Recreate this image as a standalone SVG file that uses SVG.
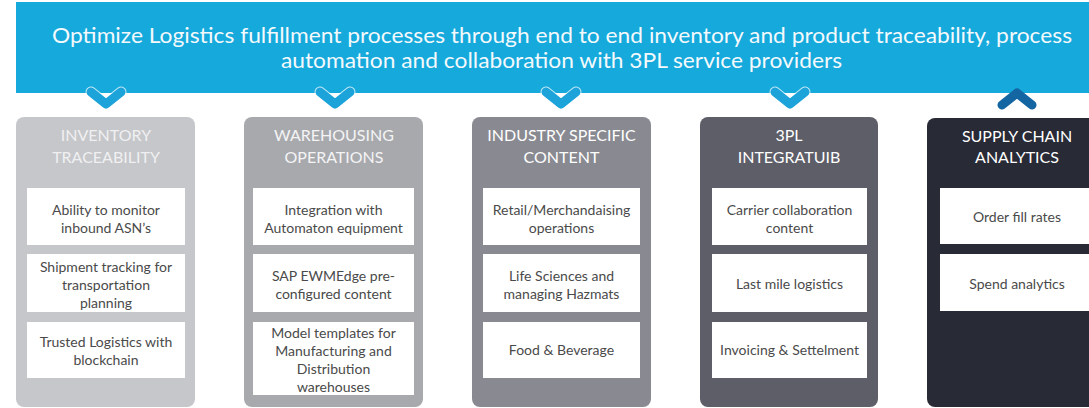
<svg xmlns="http://www.w3.org/2000/svg" width="1089" height="408" viewBox="0 0 1089 408">
<style>
.hdr{font-family:Lato,"Liberation Sans",sans-serif;font-size:21px;fill:#F4F9FC;text-anchor:middle}
.ttl{font-family:Lato,"Liberation Sans",sans-serif;font-size:16px;text-anchor:middle;fill:#FFFFFF}
.txt{font-family:Lato,"Liberation Sans",sans-serif;font-size:14px;text-anchor:middle;fill:#4A4A4A}
.box{fill:#FFFFFF}
.dn{fill:none;stroke:#1BA3DA;stroke-width:9;stroke-linecap:round;stroke-linejoin:round}
.up{fill:none;stroke:#1466A3;stroke-width:9;stroke-linecap:round;stroke-linejoin:round}
.halo{fill:none;stroke:#FFFFFF;stroke-opacity:0.75;stroke-width:11;stroke-linecap:round;stroke-linejoin:round}
</style>
<rect width="1089" height="408" fill="#FFFFFF"/>
<g id="header">
<rect x="16" y="2" width="1073" height="91" fill="#15A9DC"/>
<text class="hdr" x="562" y="43" textLength="1020" lengthAdjust="spacingAndGlyphs">Optimize Logistics fulfillment processes through end to end inventory and product traceability, process</text>
<text class="hdr" x="561.5" y="68" textLength="561" lengthAdjust="spacingAndGlyphs">automation and collaboration with 3PL service providers</text>
</g>
<g id="connectors">
<path class="halo" d="M91 92 L106 104 L121 92"/>
<path class="dn" d="M91 92 L106 104 L121 92"/>
<path class="halo" d="M320 92 L335 104 L350 92"/>
<path class="dn" d="M320 92 L335 104 L350 92"/>
<path class="halo" d="M546 92 L561 104 L576 92"/>
<path class="dn" d="M546 92 L561 104 L576 92"/>
<path class="halo" d="M775 92 L790 104 L805 92"/>
<path class="dn" d="M775 92 L790 104 L805 92"/>
<path class="up" d="M1002 105 L1017 93 L1032 105"/>
</g>
<g id="col1">
<rect x="16" y="117" width="179" height="290" rx="8" fill="#C6C7CA"/>
<text class="ttl" x="106" y="141" style="fill:#F0F0F2">INVENTORY</text>
<text class="ttl" x="106" y="163" style="fill:#F0F0F2">TRACEABILITY</text>
<rect class="box" x="27" y="188" width="158" height="57"/>
<text class="txt" x="106" y="215">Ability to monitor</text>
<text class="txt" x="106" y="233">inbound ASN’s</text>
<rect class="box" x="27" y="254" width="158" height="58"/>
<text class="txt" x="106" y="272">Shipment tracking for</text>
<text class="txt" x="106" y="290">transportation</text>
<text class="txt" x="106" y="308">planning</text>
<rect class="box" x="27" y="322" width="158" height="56"/>
<text class="txt" x="106" y="347">Trusted Logistics with</text>
<text class="txt" x="106" y="365">blockchain</text>
</g>
<g id="col2">
<rect x="244" y="117" width="179" height="290" rx="8" fill="#A8A9AD"/>
<text class="ttl" x="334" y="141" style="fill:#F4F4F5">WAREHOUSING</text>
<text class="ttl" x="334" y="163" style="fill:#F4F4F5">OPERATIONS</text>
<rect class="box" x="253" y="188" width="161" height="57"/>
<text class="txt" x="333.5" y="215">Integration with</text>
<text class="txt" x="333.5" y="233">Automaton equipment</text>
<rect class="box" x="253" y="254" width="161" height="58"/>
<text class="txt" x="333.5" y="281">SAP EWMEdge pre-</text>
<text class="txt" x="333.5" y="299">configured content</text>
<rect class="box" x="253" y="322" width="161" height="73"/>
<text class="txt" x="333.5" y="338">Model templates for</text>
<text class="txt" x="333.5" y="356">Manufacturing and</text>
<text class="txt" x="333.5" y="374">Distribution</text>
<text class="txt" x="333.5" y="392">warehouses</text>
</g>
<g id="col3">
<rect x="472" y="117" width="179" height="290" rx="8" fill="#898A91"/>
<text class="ttl" x="561.5" y="141">INDUSTRY SPECIFIC</text>
<text class="ttl" x="561.5" y="163">CONTENT</text>
<rect class="box" x="483" y="188" width="157" height="57"/>
<text class="txt" x="561.5" y="215">Retail/Merchandaising</text>
<text class="txt" x="561.5" y="233">operations</text>
<rect class="box" x="483" y="254" width="157" height="58"/>
<text class="txt" x="561.5" y="281">Life Sciences and</text>
<text class="txt" x="561.5" y="299">managing Hazmats</text>
<rect class="box" x="483" y="322" width="157" height="56"/>
<text class="txt" x="561.5" y="355">Food &amp; Beverage</text>
</g>
<g id="col4">
<rect x="700" y="117" width="178" height="290" rx="8" fill="#5E5E68"/>
<text class="ttl" x="789" y="141">3PL</text>
<text class="ttl" x="789" y="163">INTEGRATUIB</text>
<rect class="box" x="712" y="188" width="155" height="57"/>
<text class="txt" x="789.5" y="215">Carrier collaboration</text>
<text class="txt" x="789.5" y="233">content</text>
<rect class="box" x="712" y="254" width="155" height="58"/>
<text class="txt" x="789.5" y="289">Last mile logistics</text>
<rect class="box" x="712" y="322" width="155" height="56"/>
<text class="txt" x="789.5" y="355">Invoicing &amp; Settelment</text>
</g>
<g id="col5">
<rect x="927" y="118" width="179" height="289" rx="8" fill="#282A36"/>
<text class="ttl" x="1017" y="142">SUPPLY CHAIN</text>
<text class="ttl" x="1017" y="163">ANALYTICS</text>
<rect class="box" x="940" y="188" width="158" height="56"/>
<text class="txt" x="1017" y="222">Order fill rates</text>
<rect class="box" x="940" y="254" width="158" height="57"/>
<text class="txt" x="1017" y="289">Spend analytics</text>
</g>
</svg>
